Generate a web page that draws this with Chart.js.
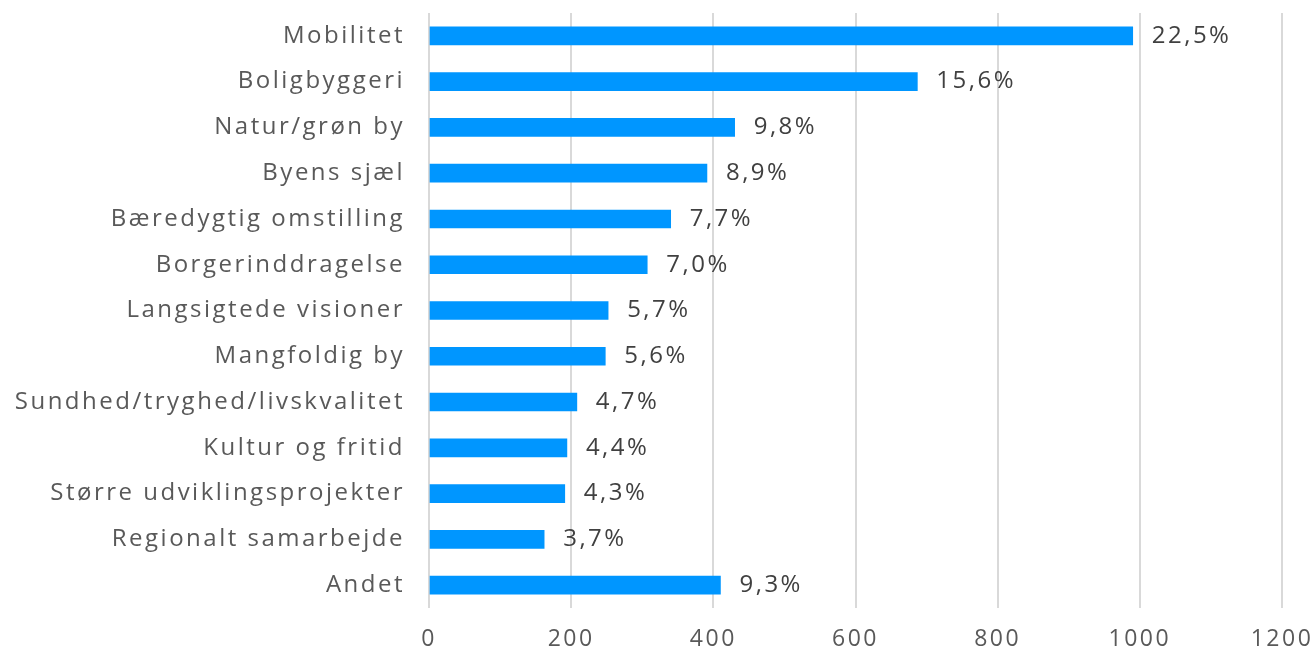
<!DOCTYPE html>
<html>
<head>
<meta charset="utf-8">
<script src="https://cdn.jsdelivr.net/npm/chart.js@4"></script>
<style>
  html, body { margin: 0; padding: 0; background: #fff; overflow: hidden; }
  #wrap { width: 1312px; height: 650px; position: relative; }
</style>
</head>
<body>
<div id="wrap"><canvas id="chart" width="1312" height="650"></canvas></div>
<script>
const categories = [
    'Mobilitet', 'Boligbyggeri', 'Natur/grøn by', 'Byens sjæl', 'Bæredygtig omstilling',
    'Borgerinddragelse', 'Langsigtede visioner', 'Mangfoldig by', 'Sundhed/tryghed/livskvalitet',
    'Kultur og fritid', 'Større udviklingsprojekter', 'Regionalt samarbejde', 'Andet'
];
const counts = [990, 687, 430, 391, 340, 307, 252, 248, 208, 194, 191, 162, 410];
const shares = ['22,5%', '15,6%', '9,8%', '8,9%', '7,7%', '7,0%', '5,7%', '5,6%', '4,7%', '4,4%', '4,3%', '3,7%', '9,3%'];
const xTicks = [0, 200, 400, 600, 800, 1000, 1200];

const fontFamily = '"Open Sans", "Noto Sans", sans-serif';
const spacing = '2.5px';

// the original font is set wide, so add some letter spacing to the canvas
const wideText = {
    id: 'wideText',
    beforeUpdate(chart) { chart.ctx.letterSpacing = spacing; },
    beforeDraw(chart) { chart.ctx.letterSpacing = spacing; }
};

// draws the percentage next to each bar
const shareLabels = {
    id: 'shareLabels',
    afterDatasetsDraw(chart) {
        const ctx = chart.ctx;
        const meta = chart.getDatasetMeta(0);
        ctx.save();
        ctx.letterSpacing = spacing;
        ctx.font = '500 24px ' + fontFamily;
        ctx.fillStyle = '#404040';
        ctx.textAlign = 'left';
        ctx.textBaseline = 'middle';
        meta.data.forEach((bar, i) => {
            ctx.fillText(shares[i], bar.x + 19, bar.y);
        });
        ctx.restore();
    }
};

const ctx = document.getElementById('chart').getContext('2d');
new Chart(ctx, {
    type: 'bar',
    data: {
        labels: categories,
        datasets: [{
            data: counts,
            backgroundColor: '#0096FF',
            borderWidth: 0,
            barThickness: 18
        }]
    },
    options: {
        indexAxis: 'y',
        responsive: false,
        animation: false,
        layout: { padding: { top: 13, bottom: 0, left: 0, right: 0 } },
        plugins: {
            legend: { display: false },
            tooltip: { enabled: false }
        },
        scales: {
            x: {
                min: 0,
                max: 1200,
                afterBuildTicks: (scale) => { scale.ticks = xTicks.map(v => ({ value: v })); },
                afterFit: (scale) => { scale.paddingLeft = 0; scale.paddingRight = 30; scale.height = 42; },
                grid: { color: '#d9d9d9', lineWidth: 2, drawTicks: false },
                border: { display: false },
                ticks: {
                    padding: 18,
                    color: '#595959',
                    font: { size: 23, weight: '500', family: fontFamily },
                    callback: (v) => String(v)
                }
            },
            y: {
                grid: { display: false, drawTicks: false },
                border: { display: false },
                afterFit: (scale) => { scale.width = 429; scale.paddingTop = 0; scale.paddingBottom = 0; },
                ticks: {
                    padding: 24,
                    color: '#595959',
                    font: { size: 24, weight: '500', family: fontFamily }
                }
            }
        }
    },
    plugins: [wideText, shareLabels]
});
</script>
</body>
</html>
